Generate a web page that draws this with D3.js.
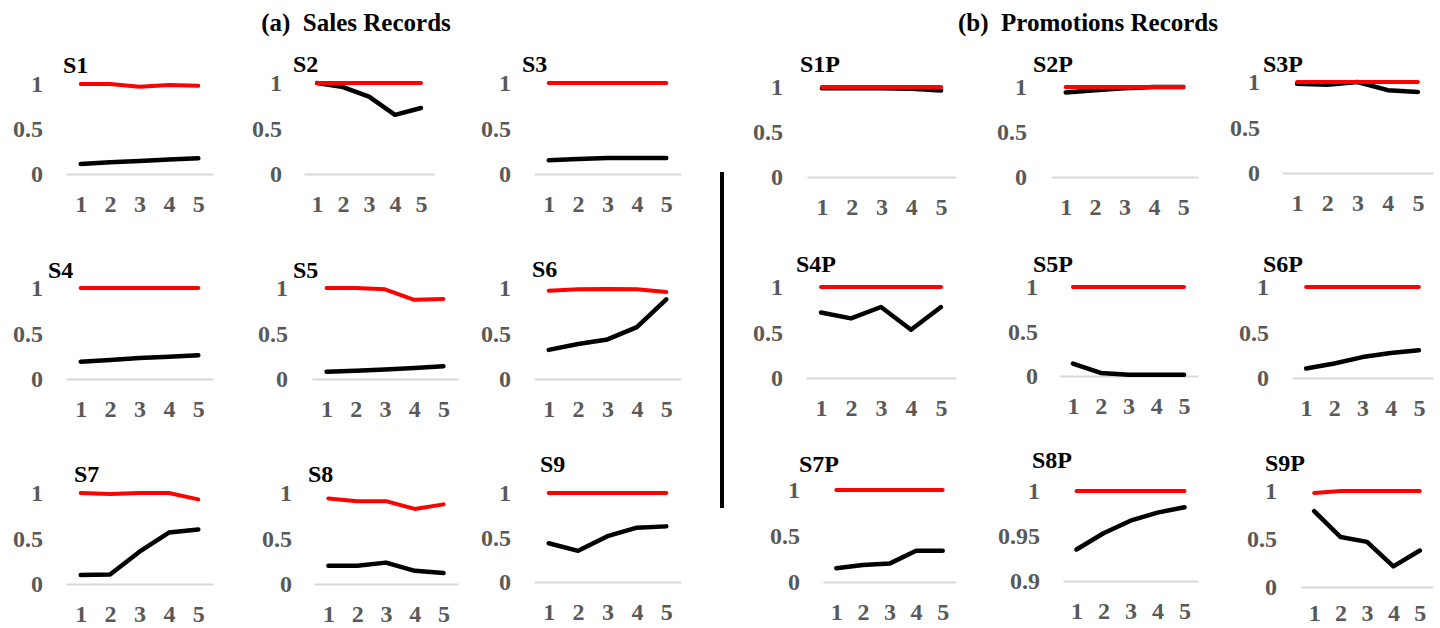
<!DOCTYPE html>
<html>
<head>
<meta charset="utf-8">
<script src="https://cdn.jsdelivr.net/npm/d3@7"></script>
<style>
  html, body { margin: 0; padding: 0; background: #fff; }
  svg { display: block; }
  text { font-family: "Liberation Serif", "Times New Roman", serif; font-weight: bold; }
</style>
</head>
<body>
<div id="chart"></div>
<script>
/* ── Data ─────────────────────────────────────────────── */
const xCats = [1, 2, 3, 4, 5];

const sectionTitles = ['(a)  Sales Records', '(b)  Promotions Records'];

const panelNames = [
  'S1', 'S2', 'S3', 'S4', 'S5', 'S6', 'S7', 'S8', 'S9',
  'S1P', 'S2P', 'S3P', 'S4P', 'S5P', 'S6P', 'S7P', 'S8P', 'S9P'
];

// red series, one row per panel (same order as panelNames)
const redSeries = [
  [1, 1, 0.97, 0.99, 0.98],
  [1, 1, 1, 1, 1],
  [1, 1, 1, 1, 1],
  [1, 1, 1, 1, 1],
  [1, 1, 0.985, 0.87, 0.88],
  [0.97, 0.985, 0.99, 0.985, 0.955],
  [1, 0.99, 1, 1, 0.93],
  [0.94, 0.91, 0.91, 0.825, 0.875],
  [1, 1, 1, 1, 1],
  [1, 1, 1, 1, 1],
  [1, 1, 1, 1, 1],
  [1, 1, 1, 1, 1],
  [1, 1, 1, 1, 1],
  [1, 1, 1, 1, 1],
  [1, 1, 1, 1, 1],
  [1, 1, 1, 1, 1],
  [1, 1, 1, 1, 1],
  [0.98, 1, 1, 1, 1]
];

// black series, one row per panel
const blackSeries = [
  [0.11, 0.13, 0.145, 0.16, 0.175],
  [1, 0.955, 0.85, 0.65, 0.725],
  [0.15, 0.165, 0.175, 0.175, 0.175],
  [0.19, 0.21, 0.23, 0.245, 0.26],
  [0.08, 0.09, 0.105, 0.12, 0.14],
  [0.32, 0.385, 0.435, 0.57, 0.875],
  [0.1, 0.105, 0.355, 0.565, 0.6],
  [0.2, 0.2, 0.235, 0.145, 0.12],
  [0.435, 0.35, 0.515, 0.61, 0.625],
  [0.985, 0.985, 0.985, 0.98, 0.96],
  [0.94, 0.965, 0.985, 1, 1],
  [0.98, 0.97, 1, 0.91, 0.89],
  [0.72, 0.655, 0.78, 0.53, 0.78],
  [0.14, 0.035, 0.015, 0.015, 0.015],
  [0.105, 0.16, 0.23, 0.275, 0.305],
  [0.15, 0.185, 0.2, 0.34, 0.34],
  [0.935, 0.953, 0.967, 0.976, 0.982],
  [0.79, 0.52, 0.47, 0.215, 0.38]
];

const yTicks = [0, 0.5, 1];
const yTickLabels = ['0', '0.5', '1'];
const zoomTicks = [0.9, 0.95, 1];          // S8P uses a narrow range
const zoomTickLabels = ['0.9', '0.95', '1'];
const zoomPanel = 'S8P';

/* ── Layout (pixel positions of each little panel) ───── */
// tx,ty: title; lx: right edge of y labels; top/bottom: y px of top/bottom tick;
// left/right: extent of the category axis; gap: baseline -> label centre
const layout = [
  { tx: 63,   ty: 73,  lx: 43,   top: 84,  bottom: 174, left: 66,   right: 213 },
  { tx: 293,  ty: 72,  lx: 282,  top: 83,  bottom: 174, left: 304,  right: 434 },
  { tx: 522,  ty: 72,  lx: 511,  top: 83,  bottom: 174, left: 534,  right: 681 },
  { tx: 48,   ty: 278, lx: 43,   top: 288, bottom: 379, left: 66,   right: 213 },
  { tx: 293,  ty: 278, lx: 288,  top: 288, bottom: 379, left: 312,  right: 458 },
  { tx: 532,  ty: 277, lx: 511,  top: 288, bottom: 379, left: 534,  right: 681 },
  { tx: 74,   ty: 482, lx: 43,   top: 493, bottom: 584, left: 66,   right: 213 },
  { tx: 308,  ty: 482, lx: 292,  top: 493, bottom: 584, left: 314,  right: 458 },
  { tx: 540,  ty: 472, lx: 511,  top: 493, bottom: 582, left: 534,  right: 681 },
  { tx: 800,  ty: 72,  lx: 783,  top: 87,  bottom: 177, left: 807,  right: 956 },
  { tx: 1033, ty: 72,  lx: 1027, top: 87,  bottom: 177, left: 1051, right: 1198 },
  { tx: 1263, ty: 72,  lx: 1260, top: 82,  bottom: 173, left: 1282, right: 1433 },
  { tx: 796,  ty: 272, lx: 783,  top: 287, bottom: 378, left: 806,  right: 956 },
  { tx: 1033, ty: 272, lx: 1038, top: 287, bottom: 376, left: 1059, right: 1198 },
  { tx: 1263, ty: 272, lx: 1269, top: 287, bottom: 378, left: 1292, right: 1433 },
  { tx: 799,  ty: 472, lx: 800,  top: 490, bottom: 582, left: 823,  right: 956 },
  { tx: 1032, ty: 468, lx: 1040, top: 491, bottom: 581, left: 1063, right: 1198 },
  { tx: 1265, ty: 471, lx: 1277, top: 491, bottom: 587, left: 1301, right: 1433, gap: 26 }
];

const sectionPos = [{ x: 356, y: 31 }, { x: 1088, y: 31 }];

const WIDTH = 1440, HEIGHT = 628;
const TICK_GREY = '#595959';
const AXIS_GREY = '#d9d9d9';
const LABEL_GAP = 30;   // default baseline -> centre of category labels

const svg = d3.select('#chart').append('svg')
  .attr('width', WIDTH)
  .attr('height', HEIGHT)
  .attr('viewBox', `0 0 ${WIDTH} ${HEIGHT}`);

// ── Section headings ───────────────────────────────────
svg.selectAll('.section')
  .data(sectionTitles)
  .join('text')
  .attr('class', 'section')
  .attr('x', (d, i) => sectionPos[i].x)
  .attr('y', (d, i) => sectionPos[i].y)
  .attr('text-anchor', 'middle')
  .attr('font-size', 25)
  .attr('fill', '#000')
  .style('white-space', 'pre')
  .text(d => d);

// ── Divider between the two groups ─────────────────────
svg.append('line')
  .attr('x1', 722).attr('x2', 722)
  .attr('y1', 172).attr('y2', 508)
  .attr('stroke', '#000')
  .attr('stroke-width', 4);

// ── Panels ─────────────────────────────────────────────
panelNames.forEach((name, i) => {
  const L = layout[i];
  const ticks = name === zoomPanel ? zoomTicks : yTicks;
  const tickLabels = name === zoomPanel ? zoomTickLabels : yTickLabels;

  const x = d3.scalePoint()
    .domain(xCats)
    .range([L.left, L.right])
    .padding(0.5);

  const y = d3.scaleLinear()
    .domain([ticks[0], ticks[ticks.length - 1]])
    .range([L.bottom, L.top]);

  const g = svg.append('g').attr('class', 'panel');

  // title
  g.append('text')
    .attr('x', L.tx)
    .attr('y', L.ty)
    .attr('font-size', 24)
    .attr('fill', '#000')
    .text(name);

  // y axis (labels only)
  g.append('g')
    .attr('transform', `translate(${L.lx},0)`)
    .call(d3.axisLeft(y)
      .tickValues(ticks)
      .tickSize(0)
      .tickPadding(0)
      .tickFormat((d, k) => tickLabels[k]))
    .call(gg => gg.select('.domain').remove())
    .call(gg => gg.selectAll('.tick text')
      .attr('fill', TICK_GREY)
      .attr('font-family', '"Liberation Serif", "Times New Roman", serif')
      .attr('font-weight', 'bold')
      .attr('font-size', 24));

  // x axis: grey baseline + category labels
  g.append('g')
    .attr('transform', `translate(0,${L.bottom})`)
    .call(d3.axisBottom(x).tickSize(0).tickSizeOuter(0))
    .call(gg => gg.select('.domain')
      .attr('stroke', AXIS_GREY)
      .attr('stroke-width', 2))
    .call(gg => gg.selectAll('.tick text')
      .attr('y', L.gap || LABEL_GAP)
      .attr('dy', '0.34em')
      .attr('fill', TICK_GREY)
      .attr('font-family', '"Liberation Serif", "Times New Roman", serif')
      .attr('font-weight', 'bold')
      .attr('font-size', 24));

  const line = d3.line()
    .x((d, k) => x(xCats[k]))
    .y(d => y(d));

  g.append('path')
    .datum(blackSeries[i])
    .attr('fill', 'none')
    .attr('stroke', '#000')
    .attr('stroke-width', 4.5)
    .attr('stroke-linejoin', 'round')
    .attr('stroke-linecap', 'round')
    .attr('d', line);

  g.append('path')
    .datum(redSeries[i])
    .attr('fill', 'none')
    .attr('stroke', '#ff0000')
    .attr('stroke-width', 4)
    .attr('stroke-linejoin', 'round')
    .attr('stroke-linecap', 'round')
    .attr('d', line);
});
</script>
</body>
</html>
